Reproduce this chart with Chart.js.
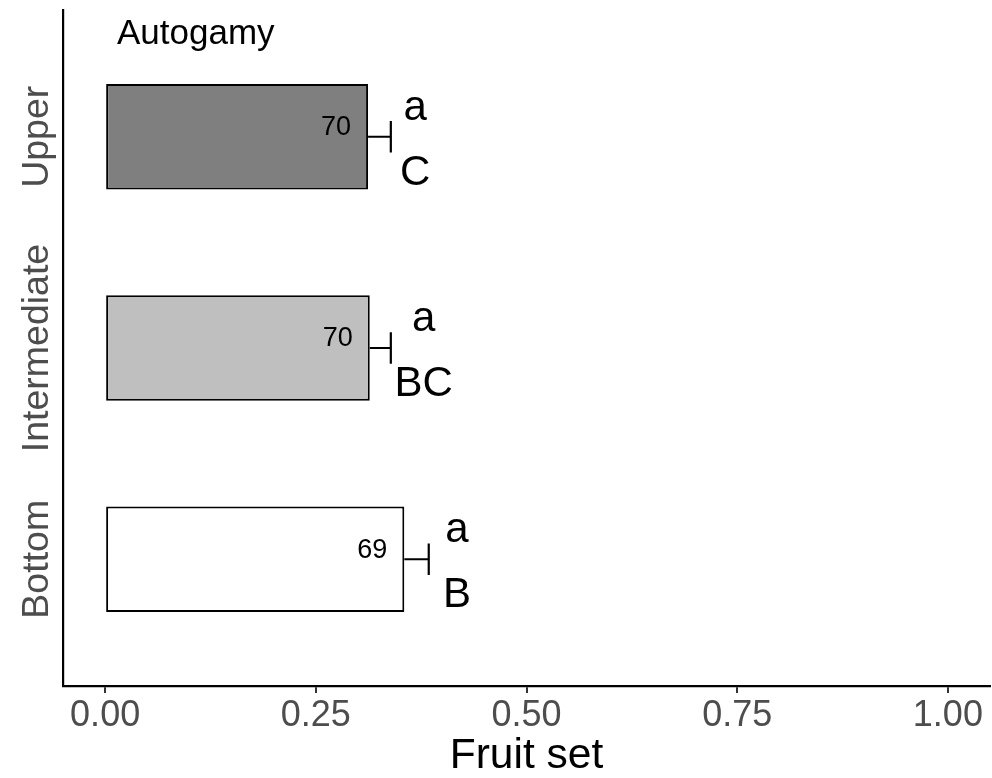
<!DOCTYPE html>
<html>
<head>
<meta charset="utf-8">
<script src="https://cdn.jsdelivr.net/npm/chart.js@4"></script>
<style>
  html, body { margin: 0; padding: 0; background: #ffffff; }
  #wrap { width: 992px; height: 778px; }
</style>
</head>
<body>
<div id="wrap"><canvas id="chart" width="992" height="778"></canvas></div>
<script>
// Fruit set under autogamy, by plant stratum
const strata = ['Bottom', 'Intermediate', 'Upper'];
const stratumPos = [1, 2, 3];
const fruitSet = [0.355, 0.314, 0.312];
const fruitSetSE = [0.029, 0.025, 0.027];
const sampleSize = [69, 70, 70];
const letterWithin = ['a', 'a', 'a'];
const letterBetween = ['B', 'BC', 'C'];
const letterAt = [0.4175, 0.378, 0.368];
const xTicks = [0, 0.25, 0.5, 0.75, 1];
const xTickLabels = ['0.00', '0.25', '0.50', '0.75', '1.00'];
const barFills = ['#ffffff', '#bfbfbf', '#7f7f7f'];

const FONT = '"Liberation Sans", Arial, Helvetica, sans-serif';

const annotate = {
  id: 'annotate',
  afterDatasetsDraw(chart) {
    const ctx = chart.ctx;
    const xs = chart.scales.x;
    const ys = chart.scales.y;
    ctx.save();

    // error bars (upper arm) with cap
    ctx.strokeStyle = '#000000';
    ctx.lineWidth = 2.2;
    fruitSet.forEach((v, i) => {
      const yc = ys.getPixelForValue(stratumPos[i]);
      const x0 = xs.getPixelForValue(v);
      const x1 = xs.getPixelForValue(v + fruitSetSE[i]);
      const half = Math.abs(ys.getPixelForValue(stratumPos[i] + 0.075) - yc);
      ctx.beginPath();
      ctx.moveTo(x0, yc);
      ctx.lineTo(x1, yc);
      ctx.moveTo(x1, yc - half);
      ctx.lineTo(x1, yc + half);
      ctx.stroke();
    });

    // sample sizes inside bar ends
    ctx.fillStyle = '#000000';
    ctx.font = '27px ' + FONT;
    ctx.textAlign = 'right';
    ctx.textBaseline = 'middle';
    fruitSet.forEach((v, i) => {
      const yc = ys.getPixelForValue(stratumPos[i]);
      ctx.fillText(String(sampleSize[i]), xs.getPixelForValue(v) - 17, yc - 9);
    });

    // significance letters
    ctx.font = '42px ' + FONT;
    ctx.textAlign = 'center';
    ctx.textBaseline = 'alphabetic';
    fruitSet.forEach((v, i) => {
      const yc = ys.getPixelForValue(stratumPos[i]);
      const x = xs.getPixelForValue(letterAt[i]);
      ctx.fillText(letterWithin[i], x, yc - 17);
      ctx.fillText(letterBetween[i], x, yc + 48);
    });

    // stratum labels, rotated
    ctx.fillStyle = '#4d4d4d';
    ctx.font = '37.5px ' + FONT;
    ctx.textAlign = 'center';
    ctx.textBaseline = 'alphabetic';
    strata.forEach((s, i) => {
      const yc = ys.getPixelForValue(stratumPos[i]);
      ctx.save();
      ctx.translate(48, yc);
      ctx.rotate(-Math.PI / 2);
      ctx.fillText(s, 0, 0);
      ctx.restore();
    });

    // panel tag and axis title
    ctx.fillStyle = '#000000';
    ctx.font = '35px ' + FONT;
    ctx.textAlign = 'left';
    ctx.fillText('Autogamy', 117, 44);

    ctx.font = '42.5px ' + FONT;
    ctx.textAlign = 'center';
    const area = chart.chartArea;
    ctx.fillText('Fruit set', (area.left + area.right) / 2, 768);

    ctx.restore();
  }
};

new Chart(document.getElementById('chart'), {
  type: 'bar',
  data: {
    datasets: [{
      data: fruitSet.map((v, i) => ({ x: v, y: stratumPos[i] })),
      backgroundColor: barFills,
      borderColor: '#000000',
      borderWidth: 2,
      borderSkipped: false,
      barPercentage: 0.5,
      categoryPercentage: 1.0
    }]
  },
  options: {
    indexAxis: 'y',
    responsive: false,
    animation: false,
    events: [],
    layout: { padding: { top: 10, right: 2, left: 0, bottom: 0 } },
    plugins: {
      legend: { display: false },
      tooltip: { enabled: false },
      title: { display: false }
    },
    scales: {
      x: {
        type: 'linear',
        min: -0.05,
        max: 1.05,
        afterBuildTicks(scale) {
          scale.ticks = xTicks.map(v => ({ value: v }));
        },
        afterFit(scale) { scale.height = 92; },
        ticks: {
          callback(value) {
            const k = xTicks.indexOf(value);
            return k >= 0 ? xTickLabels[k] : '';
          },
          color: '#4d4d4d',
          font: { family: FONT, size: 36 },
          padding: 1,
          maxRotation: 0,
          minRotation: 0
        },
        grid: {
          display: true,
          drawOnChartArea: false,
          drawTicks: true,
          tickLength: 7,
          color: '#333333',
          lineWidth: 2
        },
        border: { display: true, color: '#000000', width: 2.2 }
      },
      y: {
        type: 'linear',
        min: 0.4,
        max: 3.6,
        offset: false,
        afterBuildTicks(scale) {
          scale.ticks = stratumPos.map(v => ({ value: v }));
        },
        afterFit(scale) { scale.width = 63; },
        ticks: { display: false },
        grid: { display: false, drawTicks: false },
        border: { display: true, color: '#000000', width: 2.2 }
      }
    }
  },
  plugins: [annotate]
});
</script>
</body>
</html>
